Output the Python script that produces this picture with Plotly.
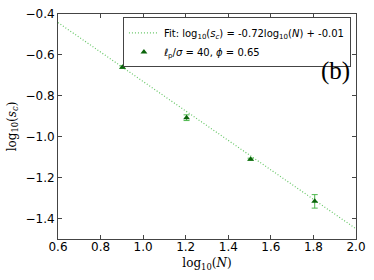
import plotly.graph_objects as go

log_N = [0.903, 1.204, 1.505, 1.806]
log_sc = [-0.660, -0.907, -1.110, -1.316]
err = [0.006, 0.014, 0.005, 0.033]

fit_slope = -0.72
fit_intercept = -0.01
fit_x = [0.6, 2.0]
fit_y = [fit_slope * x + fit_intercept for x in fit_x]

x_ticks = [0.6, 0.8, 1.0, 1.2, 1.4, 1.6, 1.8, 2.0]
y_ticks = [-1.4, -1.2, -1.0, -0.8, -0.6, -0.4]

fig = go.Figure()
fig.add_trace(go.Scatter(
    x=fit_x, y=fit_y, mode="lines",
    line=dict(color="#66c666", width=1.2, dash="1px,2px"),
    name="Fit: log<sub>10</sub>(<i>s<sub>c</sub></i>) = -0.72log<sub>10</sub>(<i>N</i>) + -0.01",
))
fig.add_trace(go.Scatter(
    x=log_N, y=log_sc, mode="markers",
    marker=dict(symbol="triangle-up", size=6, color="#0a640a"),
    error_y=dict(type="data", array=err, color="#4cb84c", thickness=1, width=3),
    name="<i>ℓ</i><sub>p</sub>/<i>σ</i> = 40, <i>ϕ</i> = 0.65",
))

axis_common = dict(
    showline=True, linecolor="#444", linewidth=1, mirror="ticks",
    ticks="inside", ticklen=4, tickcolor="#444", showgrid=False, zeroline=False,
    automargin=False,
    tickfont=dict(family="DejaVu Sans", size=12, color="black"),
)
fig.update_xaxes(range=[0.6, 2.0], tickvals=x_ticks, ticktext=[f"{v:.1f}" for v in x_ticks],
                 ticklabelstandoff=-3,
                 title=dict(text="log<sub>10</sub>(<i>N</i>)", font=dict(family="DejaVu Serif", size=12, color="black"), standoff=5),
                 **axis_common)
fig.update_yaxes(range=[-1.5, -0.4], tickvals=y_ticks, ticktext=[f"\u2212{abs(v):.1f}" for v in y_ticks],
                 title=dict(text="log<sub>10</sub>(<i>s<sub>c</sub></i>)", font=dict(family="DejaVu Serif", size=12, color="black"), standoff=6),
                 **axis_common)

fig.add_annotation(x=0.985, y=0.745, xref="paper", yref="paper", xanchor="right", yanchor="middle",
                   text="(b)", showarrow=False, font=dict(family="Liberation Serif", size=25, color="black"))

fig.update_layout(
    width=374, height=280,
    margin=dict(l=58, r=18, t=14, b=41, autoexpand=False),
    paper_bgcolor="white", plot_bgcolor="white",
    showlegend=True,
    legend=dict(x=0.983, y=0.985, xanchor="right", yanchor="top",
                bordercolor="#444", borderwidth=1, bgcolor="white",
                font=dict(family="DejaVu Sans", size=10, color="black"),
                tracegroupgap=0, itemwidth=30),
)
fig.write_html("out.html", config={"displayModeBar": False},
               post_script="document.body.style.margin='0';document.body.style.overflow='hidden';")
